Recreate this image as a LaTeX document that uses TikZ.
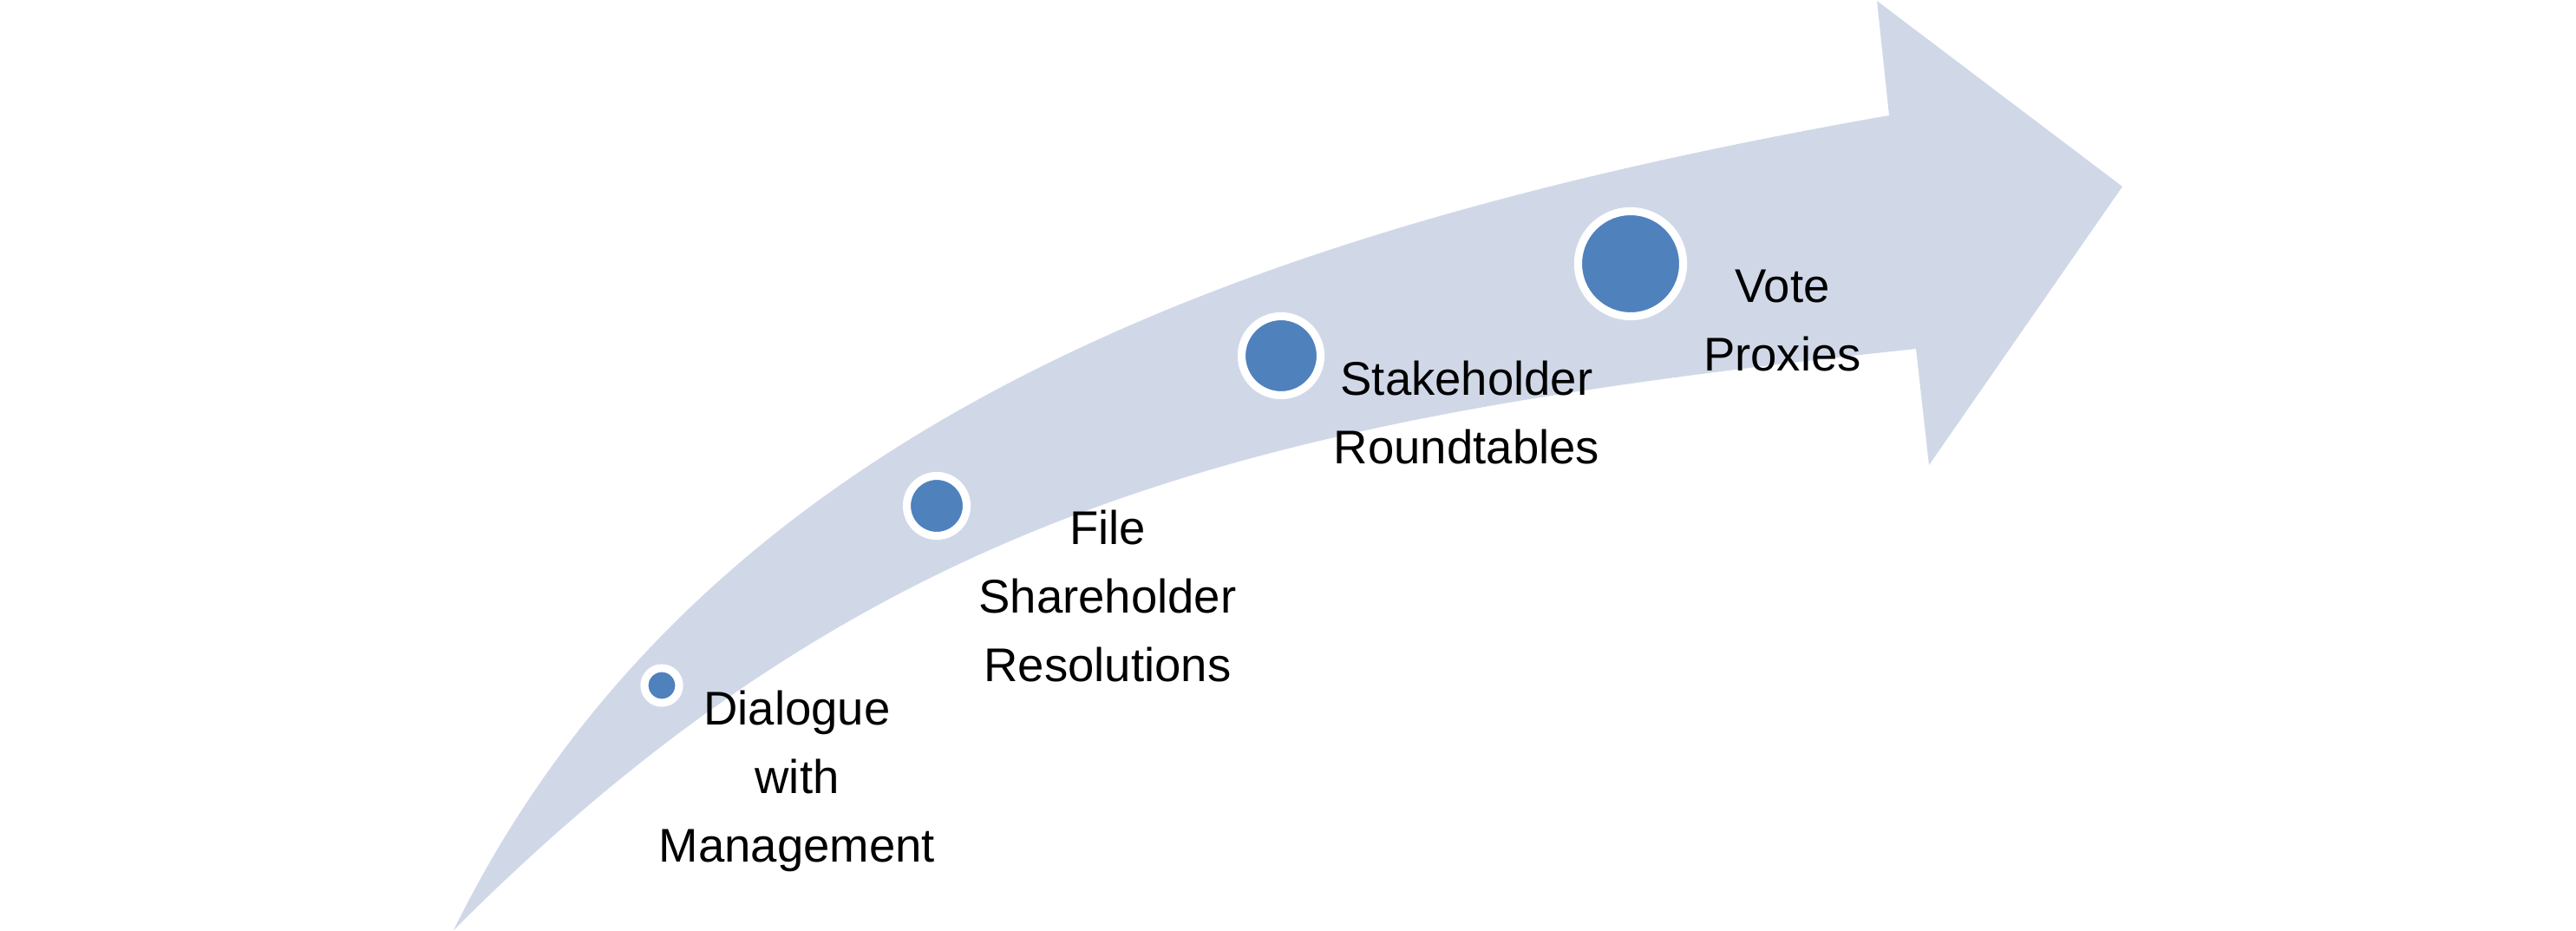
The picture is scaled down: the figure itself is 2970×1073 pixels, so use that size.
\documentclass[tikz,border=0pt]{standalone}
\usepackage{fontspec}
\setmainfont{Liberation Sans}
\definecolor{arrowfill}{HTML}{D0D8E8}
\definecolor{dotblue}{HTML}{4F81BD}
\begin{document}
\begin{tikzpicture}[x=0.01cm,y=-0.01cm,
  ringdot/.style={circle, fill=dotblue, draw=white, line width=2.6pt, inner sep=0pt},
  steptext/.style={align=center, anchor=base, inner sep=0pt, font=\fontsize{15.5pt}{22.4pt}\selectfont}]
\useasboundingbox (0,0) rectangle (2970,1073);
\fill[arrowfill] (523,1072) .. controls (810,488) and (1439,263) .. (2178,133)
  -- (2164,1) -- (2447,215) -- (2224,536) -- (2209,402)
  .. controls (1464,482) and (1018,577) .. (523,1072) -- cycle;
\node[ringdot, minimum size=0.40cm] (d1) at (763,790) {};
\node[ringdot, minimum size=0.69cm] (d2) at (1080,583) {};
\node[ringdot, minimum size=0.91cm] (d3) at (1477,410) {};
\node[ringdot, minimum size=1.21cm] (d4) at (1880,304) {};
\node[steptext] (t1) at (919,993) {Dialogue\\with\\Management};
\node[steptext] (t2) at (1277,785) {File\\Shareholder\\Resolutions};
\node[steptext] (t3) at (1691,534) {Stakeholder\\Roundtables};
\node[steptext] (t4) at (2055,427) {Vote\\Proxies};
\end{tikzpicture}
\end{document}
